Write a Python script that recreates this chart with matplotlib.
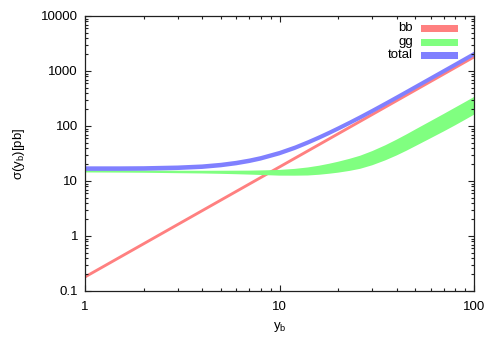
import matplotlib
matplotlib.use("Agg")
import matplotlib.pyplot as plt
from matplotlib.ticker import LogLocator, FixedLocator, FixedFormatter, NullFormatter
from matplotlib.patches import Rectangle

plt.rcParams['font.family'] = ['Liberation Sans', 'DejaVu Sans']
plt.rcParams['mathtext.default'] = 'regular'

# ---- data ----
bb_x = [1, 10, 100]
bb_lo = [0.168, 16.8, 1680]
bb_hi = [0.193, 19.3, 1930]

yb = [1, 1.5, 2, 3, 4, 5, 6, 7, 8, 10, 12, 14, 16, 18, 20, 23, 26, 30, 35, 40,
      45, 50, 60, 70, 80, 90, 100]

gg_lo = [14.30, 14.21, 14.11, 13.86, 13.70, 13.49, 13.28, 13.07, 12.86, 12.51,
         12.49, 12.59, 12.99, 13.55, 14.16, 15.29, 16.65, 19.32, 23.70, 29.08,
         35.53, 43.03, 60.06, 79.74, 102.8, 129.7, 160.1]
gg_hi = [15.73, 15.63, 15.52, 15.38, 15.35, 15.37, 15.40, 15.43, 15.57, 15.89,
         16.61, 17.63, 18.97, 20.59, 22.37, 25.38, 28.81, 34.98, 44.56, 56.41,
         70.36, 86.48, 123.1, 165.9, 215.9, 272.4, 336.2]

tot_lo = [15.27, 15.27, 15.36, 15.82, 16.55, 17.73, 19.27, 21.18, 23.45, 29.18,
          36.55, 45.64, 56.18, 68.18, 81.64, 104.5, 130.5, 170.9, 230.0, 298.6,
          376.8, 464.5, 667.3, 906.4, 1183, 1496, 1847]
tot_hi = [18.48, 18.48, 18.59, 19.14, 20.02, 21.45, 23.32, 25.63, 28.38, 35.31,
          44.22, 55.22, 67.98, 82.5, 98.78, 126.4, 158.0, 206.8, 278.3, 361.4,
          456.0, 562.1, 807.4, 1097, 1431, 1811, 2235]

series = ['bb', 'gg', 'total']
colors = ['#ff8080', '#80ff80', '#8080ff']

xticks = [1, 10, 100]
xticklabels = ['1', '10', '100']
yticks = [0.1, 1, 10, 100, 1000, 10000]
yticklabels = ['0.1', '1', '10', '100', '1000', '10000']

# ---- figure ----
fig = plt.figure(figsize=(5, 3.5), dpi=100)
ax = fig.add_axes([0.17, 0.1686, 0.778, 0.7857])

bands = [(bb_x, bb_lo, bb_hi), (yb, gg_lo, gg_hi), (yb, tot_lo, tot_hi)]
for (xs, lo, hi), c, name in zip(bands, colors, series):
    ax.fill_between(xs, lo, hi, facecolor=c, edgecolor='none', linewidth=0, label=name)

ax.set_xscale('log')
ax.set_yscale('log')
ax.set_xlim(1, 100)
ax.set_ylim(0.1, 10000)

ax.xaxis.set_major_locator(FixedLocator(xticks))
ax.xaxis.set_major_formatter(FixedFormatter(xticklabels))
ax.yaxis.set_major_locator(FixedLocator(yticks))
ax.yaxis.set_major_formatter(FixedFormatter(yticklabels))
ax.xaxis.set_minor_locator(LogLocator(base=10, subs=range(2, 10), numticks=20))
ax.yaxis.set_minor_locator(LogLocator(base=10, subs=range(2, 10), numticks=20))
ax.xaxis.set_minor_formatter(NullFormatter())
ax.yaxis.set_minor_formatter(NullFormatter())

ax.tick_params(which='both', direction='in', top=True, right=True,
               colors='#202020', width=0.8, labelsize=9.5, labelcolor='black')
ax.tick_params(which='major', length=4.5)
ax.tick_params(which='minor', length=2.5)
ax.tick_params(axis='x', pad=7)
ax.tick_params(axis='y', pad=5)
for s in ax.spines.values():
    s.set_color('#202020')
    s.set_linewidth(0.9)

ax.set_xlabel('y$_{b}$', fontsize=9.5, labelpad=5)
ax.set_ylabel('σ(y$_{b}$)[pb]', fontsize=9.5, labelpad=10)

# gnuplot-style key: right-justified text, filled sample box
key_y = [0.956, 0.905, 0.858]
for name, c, yk in zip(series, colors, key_y):
    ax.text(0.843, yk, name, transform=ax.transAxes, ha='right', va='center', fontsize=9.5)
    ax.add_patch(Rectangle((0.864, yk - 0.0128), 0.095, 0.0256, transform=ax.transAxes,
                           facecolor=c, edgecolor='none', clip_on=False))

fig.savefig('out.png', dpi=100)
